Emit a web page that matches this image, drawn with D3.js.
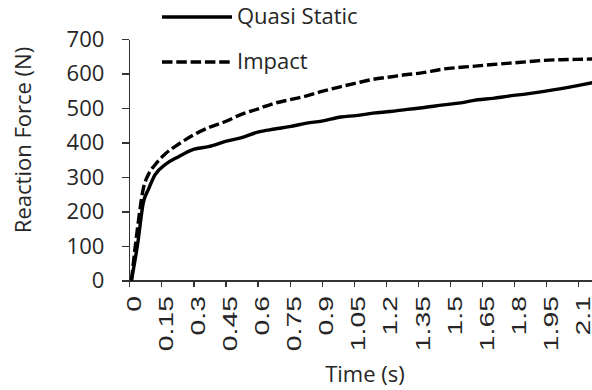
<!DOCTYPE html>
<html>
<head>
<meta charset="utf-8">
<script src="https://cdn.jsdelivr.net/npm/d3@7"></script>
<style>
  body { margin: 0; background: #fff; }
  svg { display: block; }
  .axis path, .axis line { stroke: #333; stroke-width: 1.2; shape-rendering: crispEdges; }
</style>
</head>
<body>
<svg id="chart" width="592" height="390"></svg>
<script>
// time (s) samples
const time = [0.01, 0.04, 0.065, 0.09, 0.12, 0.17, 0.23, 0.3, 0.37, 0.45, 0.53, 0.6, 0.68, 0.75,
  0.83, 0.9, 0.99, 1.06, 1.14, 1.22, 1.3, 1.36, 1.47, 1.55, 1.63, 1.7, 1.78, 1.86, 1.94, 2.02, 2.09, 2.17];
const quasiStatic = [0, 110, 224, 265, 306, 337, 359, 380, 388, 403, 415, 430, 439, 446,
  456, 462, 474, 478, 485, 490, 496, 500, 509, 515, 524, 528, 535, 541, 548, 556, 564, 574];
const impact = [0, 160, 265, 308, 335, 368, 395, 422, 443, 461, 483, 497, 514, 524,
  535, 548, 562, 572, 583, 590, 597, 601, 613, 618, 622, 626, 630, 634, 638, 640, 641, 642];

const xTickLabels = ["0", "0.15", "0.3", "0.45", "0.6", "0.75", "0.9", "1.05", "1.2",
  "1.35", "1.5", "1.65", "1.8", "1.95", "2.1"];
const yTickLabels = ["0", "100", "200", "300", "400", "500", "600", "700"];
const seriesNames = ["Quasi Static", "Impact"];

const svg = d3.select("#chart");
const textColor = "#262626";
const dash = "10.5,3.8";

const x = d3.scaleLinear().domain([0, 2.1]).range([129.3, 578.3]);
const y = d3.scaleLinear().domain([0, 700]).range([280.5, 39]);

// y axis
const yAxis = svg.append("g")
  .attr("class", "axis")
  .attr("transform", `translate(${x(0)},0)`)
  .call(d3.axisLeft(y).tickValues(yTickLabels.map(Number)).tickSize(7).tickPadding(18).tickSizeOuter(0));
yAxis.selectAll("text")
  .attr("font-family", "'Open Sans', sans-serif")
  .attr("font-size", 22)
  .attr("fill", textColor);

// x axis
const xAxis = svg.append("g")
  .attr("class", "axis")
  .attr("transform", `translate(0,${y(0)})`)
  .call(d3.axisBottom(x).tickValues(xTickLabels.map(Number)).tickSize(6).tickSizeOuter(0));
xAxis.select("path.domain").attr("d", `M${x(0)},0.5H592`);
xAxis.selectAll("text")
  .text((d, i) => xTickLabels[i])
  .attr("font-family", "'Liberation Sans', Arial, sans-serif")
  .attr("font-size", 21)
  .attr("fill", textColor)
  .attr("text-anchor", "end")
  .attr("x", null)
  .attr("y", null)
  .attr("dy", "0.36em")
  .attr("transform", "translate(3.5,15.5) rotate(-90) scale(1.35,1)");

// lines
const line = d3.line()
  .x((d, i) => x(time[i]))
  .y(d => y(d))
  .curve(d3.curveMonotoneX);

svg.append("path")
  .datum(impact)
  .attr("d", line)
  .attr("fill", "none")
  .attr("stroke", "#000")
  .attr("stroke-width", 3.4)
  .attr("stroke-dasharray", dash);

svg.append("path")
  .datum(quasiStatic)
  .attr("d", line)
  .attr("fill", "none")
  .attr("stroke", "#000")
  .attr("stroke-width", 3.4);

// axis titles
svg.append("text")
  .attr("transform", "translate(31,140) rotate(-90)")
  .attr("text-anchor", "middle")
  .attr("font-family", "'Open Sans', sans-serif")
  .attr("font-size", 22)
  .attr("fill", textColor)
  .text("Reaction Force (N)");

svg.append("text")
  .attr("x", 365)
  .attr("y", 381.5)
  .attr("text-anchor", "middle")
  .attr("font-family", "'Open Sans', sans-serif")
  .attr("font-size", 22)
  .attr("fill", textColor)
  .text("Time (s)");

// legend
const legend = svg.append("g");
seriesNames.forEach((name, i) => {
  const ly = 17 + i * 45;
  legend.append("line")
    .attr("x1", 162).attr("x2", 232)
    .attr("y1", ly).attr("y2", ly)
    .attr("stroke", "#000")
    .attr("stroke-width", 3.4)
    .attr("stroke-dasharray", i === 1 ? dash : null);
  legend.append("text")
    .attr("x", 237)
    .attr("y", ly + 6.5)
    .attr("font-family", "'Open Sans', sans-serif")
    .attr("font-size", 22)
    .attr("fill", textColor)
    .text(name);
});
</script>
</body>
</html>
